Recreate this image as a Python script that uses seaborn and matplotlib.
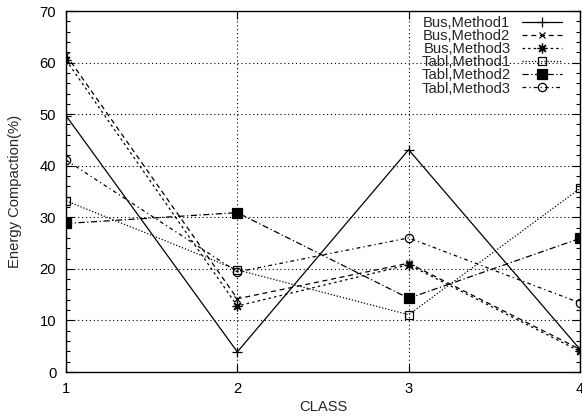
import matplotlib
matplotlib.use("Agg")
import matplotlib.pyplot as plt
import seaborn as sns
import pandas as pd
from matplotlib.ticker import MultipleLocator

classes = [1, 2, 3, 4]
bus_m1 = [49.7, 3.9, 43.1, 4.4]
bus_m2 = [61.5, 14.2, 21.1, 4.4]
bus_m3 = [60.5, 12.8, 20.8, 4.0]
tabl_m1 = [33.2, 19.8, 11.1, 35.6]
tabl_m2 = [28.8, 30.9, 14.3, 25.9]
tabl_m3 = [41.1, 19.4, 26.0, 13.4]
labels = ["Bus,Method1", "Bus,Method2", "Bus,Method3",
          "Tabl,Method1", "Tabl,Method2", "Tabl,Method3"]
series = [bus_m1, bus_m2, bus_m3, tabl_m1, tabl_m2, tabl_m3]

sns.set_style("ticks")
plt.rcParams['font.family'] = ['Liberation Sans', 'DejaVu Sans']
FS = 10.6
plt.rcParams['font.size'] = FS

styles = [
    dict(linestyle='-', marker='+', markersize=7, mfc='k'),
    dict(dashes=(4, 3), marker='x', markersize=5, mfc='k'),
    dict(dashes=(2, 2.5), marker=(8, 2, 0), markersize=7, mfc='k'),
    dict(dashes=(1, 1.5), marker='s', markersize=6, mfc='none'),
    dict(dashes=(5, 2, 1, 2), marker='s', markersize=6.5, mfc='k'),
    dict(dashes=(3, 2.5, 1, 2.5), marker='o', markersize=6, mfc='none'),
]

fig = plt.figure(figsize=(5.82, 4.18), dpi=100)
ax = fig.add_axes([66/582, 1-372/418, 514/582, 361/418])

for lab, vals, st in zip(labels, series, styles):
    df = pd.DataFrame({"CLASS": classes, "val": vals})
    sns.lineplot(data=df, x="CLASS", y="val", ax=ax, color='k', linewidth=0.9,
                 markeredgecolor='k', markeredgewidth=0.9, label=lab,
                 errorbar=None, sort=False, legend=False, **st)

ax.set_xlim(1, 4)
ax.set_ylim(0, 70)
ax.set_xticks(classes)
ax.yaxis.set_major_locator(MultipleLocator(10))
ax.yaxis.set_minor_locator(MultipleLocator(2))
ax.tick_params(axis='both', which='both', direction='in', top=True, right=True,
               colors='k', width=0.8, labelsize=FS)
ax.tick_params(axis='both', which='major', length=6, pad=7)
ax.tick_params(axis='y', which='minor', length=3)
ax.tick_params(axis='x', which='minor', length=0)
ax.grid(True, which='major', color='k', linestyle=(0, (1, 2.5)), linewidth=0.8)
for sp in ax.spines.values():
    sp.set_color('k')
    sp.set_linewidth(1.0)
ax.set_xlabel("CLASS", fontsize=FS, labelpad=3)
ax.set_ylabel("Energy Compaction(%)", fontsize=FS, labelpad=13)

handles = [l for l in ax.get_lines() if l.get_label() in labels]
leg = ax.legend(handles=handles, labels=labels, loc='upper right', frameon=False,
                markerfirst=False, handlelength=2.75, handletextpad=0.75,
                labelspacing=-0.06, borderpad=0, borderaxespad=0,
                bbox_to_anchor=(1 - 18/514, 1 - 5/361), fontsize=FS)

fig.savefig("out.png", dpi=100)
